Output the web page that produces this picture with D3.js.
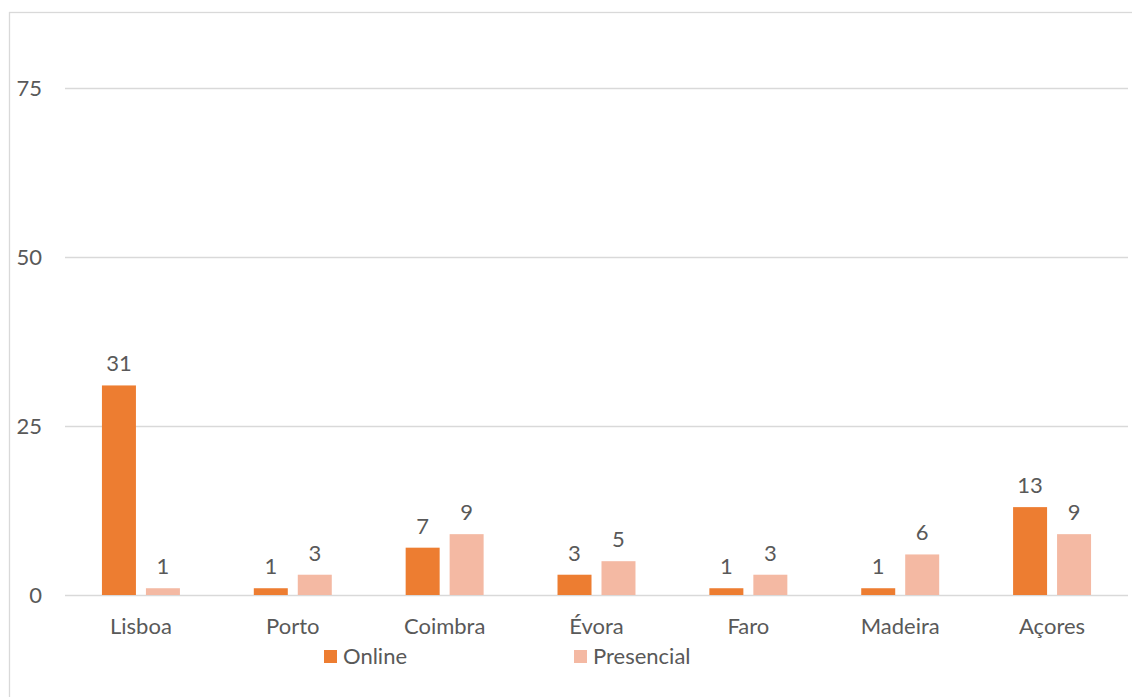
<!DOCTYPE html>
<html>
<head>
<meta charset="utf-8">
<script src="https://cdn.jsdelivr.net/npm/d3@7"></script>
<style>
  html, body { margin: 0; padding: 0; background: #fff; }
  svg { display: block; }
  text { font-family: Lato, "Open Sans", sans-serif; fill: #595959; }
</style>
</head>
<body>
<svg id="chart" width="1132" height="697"></svg>
<script>
// Participants by region and session format
const categories = ["Lisboa", "Porto", "Coimbra", "Évora", "Faro", "Madeira", "Açores"];
const seriesNames = ["Online", "Presencial"];
const onlineValues = [31, 1, 7, 3, 1, 1, 13];
const presencialValues = [1, 3, 9, 5, 3, 6, 9];
const yTicks = [0, 25, 50, 75];
const colors = ["#ED7D31", "#F4B9A3"];

const svg = d3.select("#chart");
const W = 1132, H = 697;
const margin = { left: 65, right: 4, top: 88, bottom: 102 };
const FONT = 22;

// Chart frame
svg.append("rect")
  .attr("x", 9.5).attr("y", 12.5)
  .attr("width", W + 20).attr("height", H + 20)
  .attr("fill", "none").attr("stroke", "#D9D9D9").attr("stroke-width", 1.3);

const x = d3.scaleBand().domain(categories).range([margin.left, W - margin.right]);
const y = d3.scaleLinear().domain([0, 75]).range([H - margin.bottom, margin.top]);
const xInner = d3.scaleBand().domain(seriesNames).range([0, x.bandwidth()])
  .paddingInner(0.227).paddingOuter(0.84);

// Gridlines + y labels
const yAxis = d3.axisLeft(y).tickValues(yTicks).tickSize(-(W - margin.right - margin.left));
const gy = svg.append("g").attr("transform", `translate(${margin.left},0)`).call(yAxis);
gy.select(".domain").remove();
gy.selectAll(".tick line").attr("stroke", "#D9D9D9").attr("stroke-width", 1.3);
gy.selectAll(".tick text").attr("font-size", FONT).attr("fill", "#595959")
  .attr("font-family", "Lato, sans-serif").attr("dy", "0.35em").attr("x", -23);

// x labels
const xAxis = d3.axisBottom(x).tickSize(0);
const gx = svg.append("g").attr("transform", `translate(0,${y(0)})`).call(xAxis);
gx.select(".domain").remove();
gx.selectAll(".tick text").attr("font-size", FONT).attr("fill", "#595959")
  .attr("font-family", "Lato, sans-serif").attr("y", 39).attr("dy", 0);

const data = categories.map((c, i) => ({
  cat: c,
  vals: [
    { s: "Online", v: onlineValues[i], c: colors[0] },
    { s: "Presencial", v: presencialValues[i], c: colors[1] }
  ]
}));

const groups = svg.append("g").selectAll("g").data(data).join("g")
  .attr("transform", d => `translate(${x(d.cat)},0)`);

groups.selectAll("rect").data(d => d.vals).join("rect")
  .attr("x", d => xInner(d.s))
  .attr("width", xInner.bandwidth())
  .attr("y", d => y(d.v))
  .attr("height", d => y(0) - y(d.v))
  .attr("fill", d => d.c);

groups.selectAll("text.val").data(d => d.vals).join("text")
  .attr("class", "val")
  .attr("x", d => xInner(d.s) + xInner.bandwidth() / 2)
  .attr("y", d => y(d.v) - 14)
  .attr("text-anchor", "middle")
  .attr("font-size", FONT)
  .text(d => d.v);

// Legend
const legend = svg.append("g");
const legendX = [324, 574];
seriesNames.forEach((s, i) => {
  legend.append("rect").attr("x", legendX[i]).attr("y", 650).attr("width", 13).attr("height", 13).attr("fill", colors[i]);
  legend.append("text").attr("x", legendX[i] + 19).attr("y", 664).attr("font-size", FONT).text(s);
});
</script>
</body>
</html>
